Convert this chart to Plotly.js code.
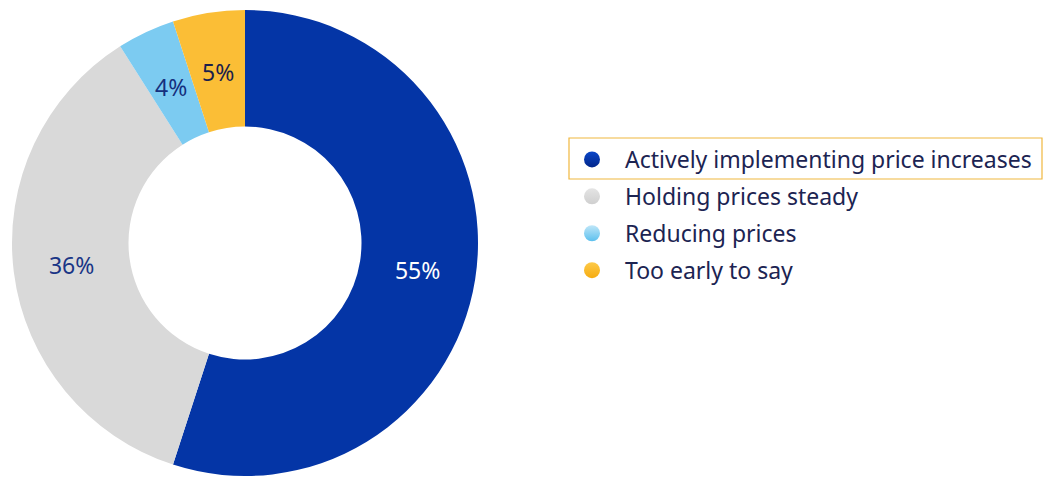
<!DOCTYPE html>
<html>
<head>
<meta charset="utf-8">
<script src="https://cdn.plot.ly/plotly-3.0.1.min.js"></script>
<style>html,body{margin:0;padding:0;background:#fff;}#chart{width:1044px;height:477px;}</style>
</head>
<body>
<div id="chart"></div>
<script>
const categories = ["Actively implementing price increases", "Holding prices steady", "Reducing prices", "Too early to say"];
const values = [55, 36, 4, 5];
const sliceColors = ["#0435a6", "#d9d9d9", "#7ccbf1", "#fbbe36"];
const legendTop = ["#0a46c8", "#e4e4e4", "#bfe6f8", "#fdca4a"];
const legendBottom = ["#02268a", "#cfcfcf", "#5cc0ee", "#f6ac10"];
const labelColors = ["#ffffff", "#1a3586", "#15307e", "#1b1f4c"];

const font = "Noto Sans, Open Sans, sans-serif";

// geometry of the donut (pixels)
const W = 1044, H = 477;
const M = {l: 0, r: 0, t: 10, b: 1};
const dom = {x: [10/W, 480/W], y: [0, 1]};
const HOLE = 0.5;
const plotH = H - M.t - M.b;
const R = plotH / 2;
const rMid = R * (1 + HOLE) / 2;

// small slices: label via annotation so Plotly does not shrink/displace it
const total = values.reduce((a, b) => a + b, 0);
const small = values.map(v => v / total < 0.08);
let cum = 0;
const annotations = [];
values.forEach((v, i) => {
  const mid = (cum + v / 2) / total;
  cum += v;
  if (!small[i]) return;
  const th = mid * 2 * Math.PI;
  annotations.push({
    xref: "paper", yref: "paper",
    x: (dom.x[0] + dom.x[1]) / 2, y: 0.5,
    xanchor: "center", yanchor: "middle",
    xshift: rMid * Math.sin(th), yshift: rMid * Math.cos(th) - 2,
    text: v + "%", showarrow: false,
    font: {family: font, size: 23, color: labelColors[i]}
  });
});

const pie = {
  type: "pie",
  labels: categories,
  values: values,
  sort: false,
  direction: "clockwise",
  rotation: 0,
  hole: HOLE,
  showlegend: false,
  marker: {colors: sliceColors, line: {width: 0}},
  texttemplate: "%{value}%",
  textposition: small.map(s => s ? "none" : "inside"),
  insidetextorientation: "horizontal",
  textfont: {family: font, size: 23, color: labelColors},
  domain: dom,
  hoverinfo: "label+value"
};

const legendTraces = categories.map((c, i) => ({
  type: "scatter",
  mode: "markers",
  x: [null], y: [null],
  name: c,
  legendgroup: "g" + i,
  marker: {symbol: "circle", size: 16, color: legendTop[i], gradient: {type: "vertical", color: legendBottom[i]}},
  hoverinfo: "skip"
}));

const layout = {
  width: W, height: H,
  margin: M,
  paper_bgcolor: "#ffffff",
  plot_bgcolor: "#ffffff",
  xaxis: {visible: false},
  yaxis: {visible: false},
  showlegend: true,
  annotations: annotations,
  legend: {
    x: 559/W, xanchor: "left",
    y: (476 - 138)/plotH, yanchor: "top",
    font: {family: font, size: 23, color: "#1c2452"},
    tracegroupgap: 4,
    itemwidth: 56,
    bgcolor: "rgba(0,0,0,0)"
  },
  shapes: [{
    type: "rect", xref: "paper", yref: "paper",
    x0: 569/W, x1: 1042/W,
    y0: (476 - 179)/plotH, y1: (476 - 138)/plotH,
    line: {color: "#f0b73e", width: 1.2},
    fillcolor: "rgba(0,0,0,0)"
  }]
};

Plotly.newPlot("chart", [pie].concat(legendTraces), layout, {displayModeBar: false, staticPlot: true});
</script>
</body>
</html>
